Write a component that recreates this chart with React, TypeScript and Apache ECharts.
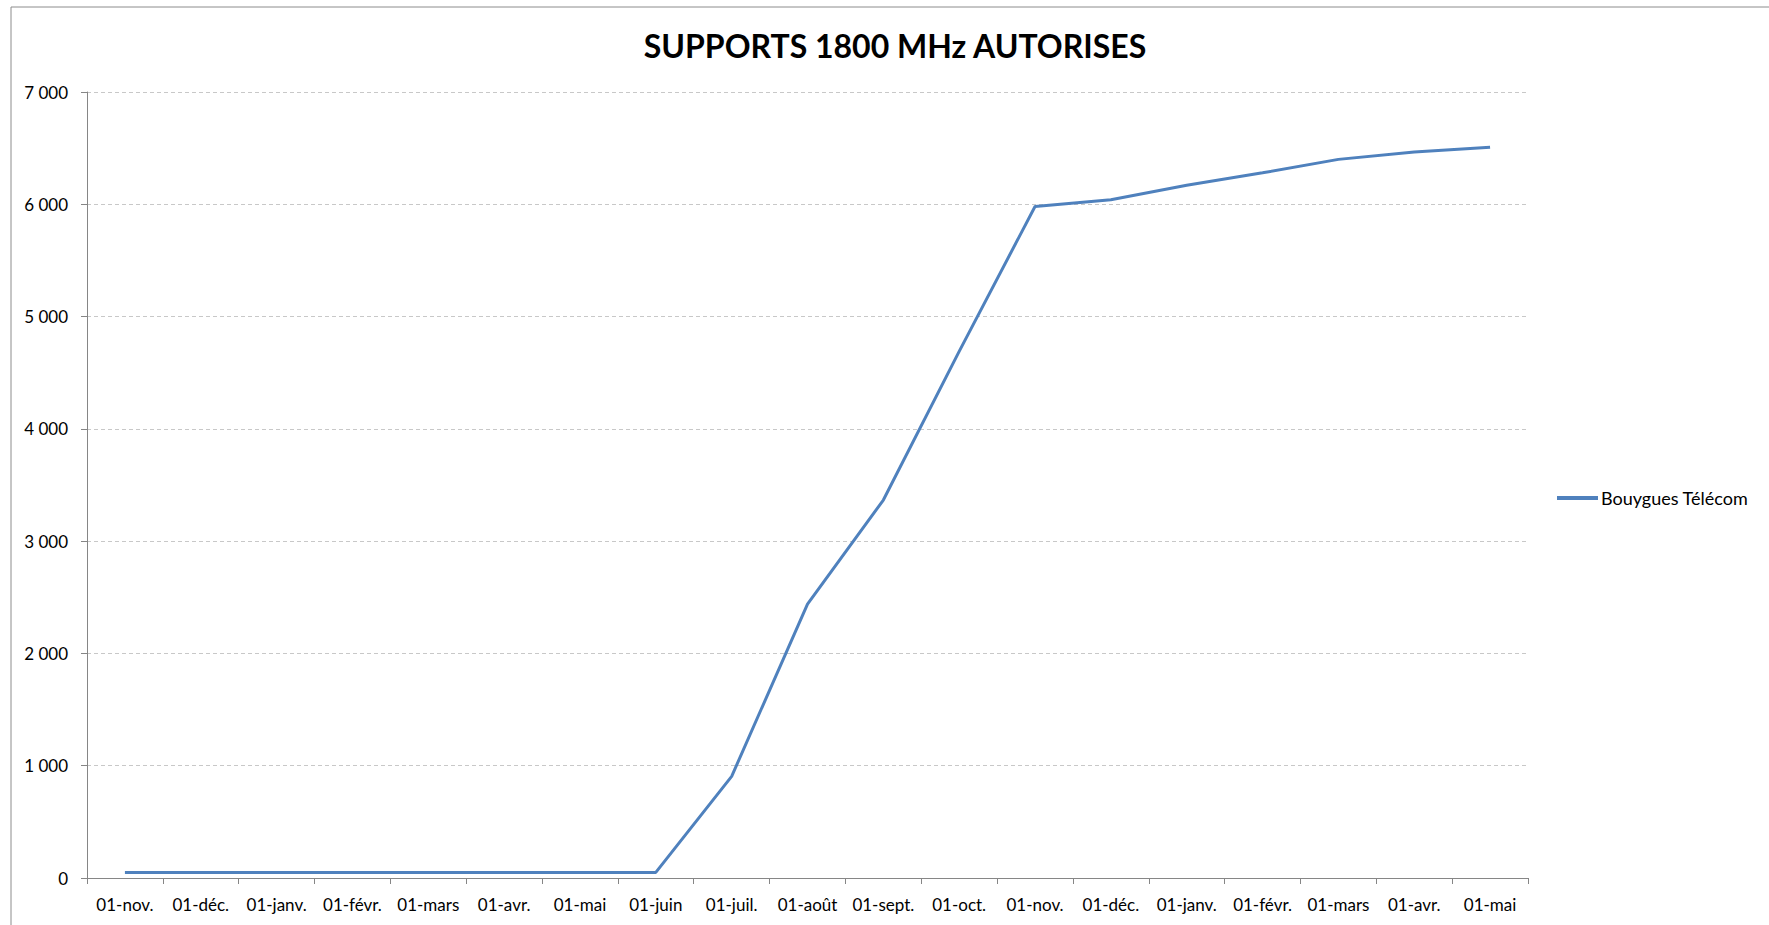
import React, { useEffect, useRef } from "react";
import * as echarts from "echarts";

const TITLE = "SUPPORTS 1800 MHz AUTORISES";
const SERIES_NAME = "Bouygues Télécom";
const categories = [
  "01-nov.", "01-déc.", "01-janv.", "01-févr.", "01-mars", "01-avr.", "01-mai",
  "01-juin", "01-juil.", "01-août", "01-sept.", "01-oct.", "01-nov.", "01-déc.",
  "01-janv.", "01-févr.", "01-mars", "01-avr.", "01-mai",
];
const values = [
  50, 50, 50, 50, 50, 50, 50, 50, 905, 2440, 3366, 4690, 5980, 6040, 6170,
  6280, 6400, 6465, 6508,
];
const Y_MIN = 0;
const Y_MAX = 7000;
const Y_STEP = 1000;

const FONT = "Lato, 'Open Sans', sans-serif";

function fmt(v: number): string {
  return String(v).replace(/\B(?=(\d{3})+(?!\d))/g, " ");
}

export default function App() {
  const ref = useRef<HTMLDivElement>(null);
  useEffect(() => {
    if (!ref.current) return;
    const chart = echarts.init(ref.current, null, { renderer: "svg" });
    chart.setOption({
      animation: false,
      backgroundColor: "#ffffff",
      textStyle: { fontFamily: FONT },
      title: {
        text: TITLE,
        left: 890,
        textAlign: "center",
        top: 24,
        textStyle: {
          fontFamily: FONT,
          fontWeight: "bold",
          fontSize: 32,
          color: "#000000",
        },
      },
      legend: {
        orient: "vertical",
        left: 1552,
        top: 484,
        icon: "rect",
        itemWidth: 41,
        itemHeight: 4,
        itemGap: 5,
        textStyle: { fontFamily: FONT, fontSize: 18, color: "#000000", padding: [0, 0, 0, -2] },
        data: [SERIES_NAME],
      },
      graphic: [
        {
          type: "rect",
          shape: { x: 11, y: 7, width: 1770, height: 930 },
          style: { fill: "none", stroke: "#8c8c8c", lineWidth: 1 },
          silent: true,
        },
      ],
      grid: { left: 87, right: 241, top: 92, bottom: 47, containLabel: false },
      xAxis: {
        type: "category",
        data: categories,
        boundaryGap: true,
        axisLine: { show: true, lineStyle: { color: "#868686", width: 1 } },
        axisTick: { show: true, length: 6, lineStyle: { color: "#868686" } },
        axisLabel: {
          interval: 0,
          margin: 18,
          fontFamily: FONT,
          fontSize: 17,
          color: "#000000",
        },
        splitLine: { show: false },
      },
      yAxis: {
        type: "value",
        min: Y_MIN,
        max: Y_MAX,
        interval: Y_STEP,
        axisLine: { show: true, lineStyle: { color: "#868686", width: 1 } },
        axisTick: { show: true, length: 6, lineStyle: { color: "#868686" } },
        axisLabel: {
          margin: 19,
          fontFamily: FONT,
          fontSize: 17,
          color: "#000000",
          formatter: (v: number) => fmt(v),
        },
        splitLine: {
          show: true,
          lineStyle: { color: "#c8c8c8", type: [4, 3], width: 1 },
        },
      },
      series: [
        {
          name: SERIES_NAME,
          type: "line",
          data: values,
          showSymbol: false,
          symbol: "none",
          lineStyle: { color: "#4f81bd", width: 3 },
          itemStyle: { color: "#4f81bd" },
        },
      ],
    });
    return () => chart.dispose();
  }, []);
  return (
    <div
      ref={ref}
      style={{ position: "fixed", left: 0, top: 0, width: 1769, height: 925 }}
    />
  );
}
